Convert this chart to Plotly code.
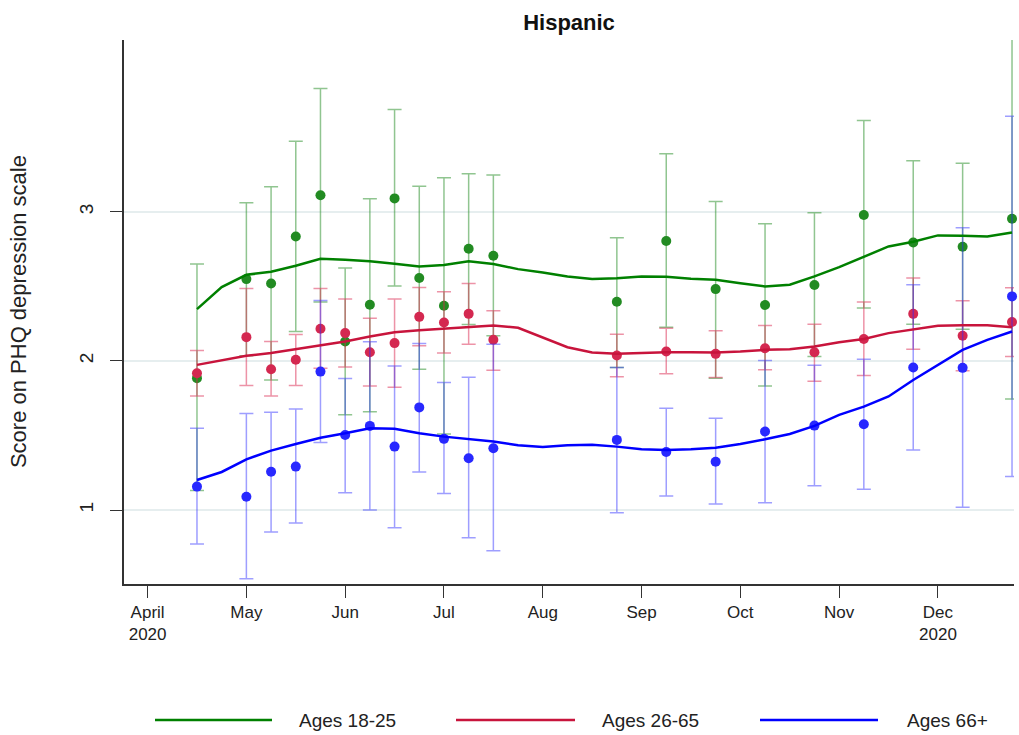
import plotly.graph_objects as go

# Survey waves, in weeks from the first wave
weeks = [0, 2, 3, 4, 5, 6, 7, 8, 9, 10, 11, 12, 17, 19, 21, 23, 25, 27, 29, 31, 33]

# Ages 18-25: mean PHQ score and confidence bounds
young_mean = [1.884, 2.548, 2.519, 2.834, 3.110, 2.130, 2.376, 3.089, 2.555, 2.369, 2.752,
              2.705, 2.396, 2.803, 2.481, 2.374, 2.508, 2.978, 2.794, 2.765, 2.953]
young_hi = [2.649, 3.060, 3.168, 3.472, 3.826, 2.622, 3.087, 3.685, 3.170, 3.228, 3.255,
            3.246, 2.826, 3.389, 3.069, 2.919, 2.993, 3.611, 3.342, 3.324, 4.159]
young_lo = [1.130, 2.034, 1.872, 2.197, 2.394, 1.638, 1.658, 2.501, 1.944, 1.510, 2.244,
            2.168, 1.955, 2.226, 1.884, 1.832, 2.029, 2.354, 2.246, 2.212, 1.745]

# Ages 26-65
mid_mean = [1.917, 2.159, 1.944, 2.007, 2.215, 2.186, 2.058, 2.119, 2.295, 2.257, 2.315,
            2.141, 2.036, 2.063, 2.047, 2.085, 2.058, 2.146, 2.315, 2.168, 2.260]
mid_hi = [2.069, 2.485, 2.130, 2.177, 2.485, 2.414, 2.286, 2.414, 2.492, 2.463, 2.519,
          2.336, 2.179, 2.219, 2.201, 2.237, 2.246, 2.394, 2.555, 2.403, 2.490]
mid_lo = [1.765, 1.834, 1.765, 1.834, 1.951, 1.958, 1.832, 1.823, 2.101, 2.052, 2.112,
          1.937, 1.893, 1.913, 1.888, 1.941, 1.864, 1.901, 2.078, 1.933, 2.029]

# Ages 66+
old_mean = [1.157, 1.089, 1.257, 1.291, 1.928, 1.503, 1.564, 1.425, 1.688, 1.477, 1.347,
            1.414, 1.470, 1.389, 1.324, 1.526, 1.566, 1.575, 1.955, 1.953, 2.432]
old_hi = [1.548, 1.647, 1.656, 1.678, 2.405, 1.881, 2.128, 1.966, 2.116, 1.855, 1.890,
          2.112, 1.955, 1.682, 1.615, 2.002, 1.971, 2.011, 2.510, 2.893, 3.640]
old_lo = [0.772, 0.539, 0.852, 0.913, 1.452, 1.116, 1.000, 0.881, 1.255, 1.110, 0.814,
          0.727, 0.982, 1.094, 1.040, 1.049, 1.163, 1.139, 1.403, 1.018, 1.224]

# Smoothed trend, one value per week
smooth_weeks = list(range(34))
young_smooth = [2.347, 2.494, 2.577, 2.597, 2.638, 2.684, 2.678, 2.668, 2.651, 2.633, 2.642,
                2.667, 2.649, 2.615, 2.593, 2.566, 2.548, 2.554, 2.566, 2.564, 2.550, 2.544,
                2.521, 2.499, 2.510, 2.566, 2.628, 2.700, 2.767, 2.799, 2.841, 2.839, 2.834, 2.861]
mid_smooth = [1.973, 2.002, 2.034, 2.052, 2.078, 2.103, 2.130, 2.163, 2.192, 2.205, 2.215,
              2.230, 2.237, 2.222, 2.156, 2.091, 2.056, 2.047, 2.052, 2.058, 2.058, 2.056,
              2.063, 2.074, 2.078, 2.096, 2.125, 2.146, 2.186, 2.212, 2.235, 2.239, 2.239, 2.226]
old_smooth = [1.201, 1.255, 1.340, 1.398, 1.443, 1.485, 1.514, 1.548, 1.544, 1.514, 1.492,
              1.474, 1.459, 1.434, 1.422, 1.434, 1.438, 1.425, 1.407, 1.403, 1.407, 1.418,
              1.443, 1.474, 1.510, 1.564, 1.638, 1.693, 1.761, 1.872, 1.973, 2.074, 2.141, 2.197]

# Month ticks every four weeks
month_ticks = [-2, 2, 6, 10, 14, 18, 22, 26, 30]
month_labels = ["April<br>2020", "May", "Jun", "Jul", "Aug", "Sep", "Oct", "Nov", "Dec<br>2020"]

y_ticks = [1, 2, 3]
group_names = ["Ages 18-25", "Ages 26-65", "Ages 66+"]

FONT = "Liberation Sans, Arial, sans-serif"

groups = [
    (young_mean, young_hi, young_lo, young_smooth,
     "rgb(34,139,34)", "rgba(34,139,34,0.5)", "rgb(0,128,0)"),
    (mid_mean, mid_hi, mid_lo, mid_smooth,
     "rgb(212,40,80)", "rgba(220,40,80,0.5)", "rgb(200,20,60)"),
    (old_mean, old_hi, old_lo, old_smooth,
     "rgb(40,40,255)", "rgba(40,40,255,0.45)", "rgb(0,0,255)"),
]

fig = go.Figure()

for mean, hi, lo, _, pt_col, bar_col, _ in groups:
    fig.add_trace(go.Scatter(
        x=weeks, y=mean, mode="markers",
        marker=dict(color=pt_col, size=10),
        error_y=dict(type="data", symmetric=False,
                     array=[h - m for h, m in zip(hi, mean)],
                     arrayminus=[m - l for m, l in zip(mean, lo)],
                     color=bar_col, thickness=1.5, width=7),
        showlegend=False, cliponaxis=False,
    ))

for name, (_, _, _, smooth, _, _, line_col) in zip(group_names, groups):
    fig.add_trace(go.Scatter(
        x=smooth_weeks, y=smooth, mode="lines", name=name,
        line=dict(color=line_col, width=2.5),
        showlegend=False,
    ))

# Legend drawn along the bottom with long line samples
legend_y = -0.25
plot_w = 890.0
legend_items = [(155, 272, 297), (456, 575, 600), (760, 878, 905)]
for name, (x0, x1, xt), (_, _, _, _, _, _, line_col) in zip(group_names, legend_items, groups):
    fig.add_shape(type="line", xref="paper", yref="paper",
                  x0=(x0 - 124) / plot_w, x1=(x1 - 124) / plot_w,
                  y0=legend_y, y1=legend_y,
                  line=dict(color=line_col, width=2.5))
    fig.add_annotation(xref="paper", yref="paper", x=(xt - 124) / plot_w, y=legend_y,
                       text=name, showarrow=False, xanchor="left", yanchor="middle",
                       font=dict(family=FONT, size=19, color="#222"))

fig.add_annotation(xref="paper", yref="paper", x=-0.119, y=0.5,
                   text="Score on PHQ depression scale", textangle=-90, showarrow=False,
                   xanchor="center", yanchor="middle",
                   font=dict(family=FONT, size=22, color="#222"))

fig.update_layout(
    width=1019, height=735,
    margin=dict(l=124, r=5, t=40, b=151),
    paper_bgcolor="white", plot_bgcolor="white",
    font=dict(family=FONT, size=17, color="#222"),
    title=dict(text="<b>Hispanic</b>", x=0.5, xref="paper", y=1 - 22 / 735,
               yanchor="middle", font=dict(family=FONT, size=22, color="#111")),
    showlegend=False,
    xaxis=dict(range=[-2.955, 33.08], tickmode="array", tickvals=month_ticks,
               ticktext=month_labels, showgrid=False, zeroline=False,
               showline=True, linecolor="#333", linewidth=1.5,
               ticks="outside", ticklen=12, tickwidth=1.3, tickcolor="#333",
               tickfont=dict(size=17)),
    yaxis=dict(range=[0.504, 4.151], tickmode="array", tickvals=y_ticks,
               ticktext=[str(v) for v in y_ticks], tickangle=-90,
               showgrid=True, gridcolor="#e6eeef", gridwidth=2, zeroline=False,
               showline=True, linecolor="#333", linewidth=1.5,
               ticks="outside", ticklen=12, tickwidth=1.3, tickcolor="#333",
               ticklabelstandoff=10, tickfont=dict(size=19)),
)

fig.write_html("out.html")
